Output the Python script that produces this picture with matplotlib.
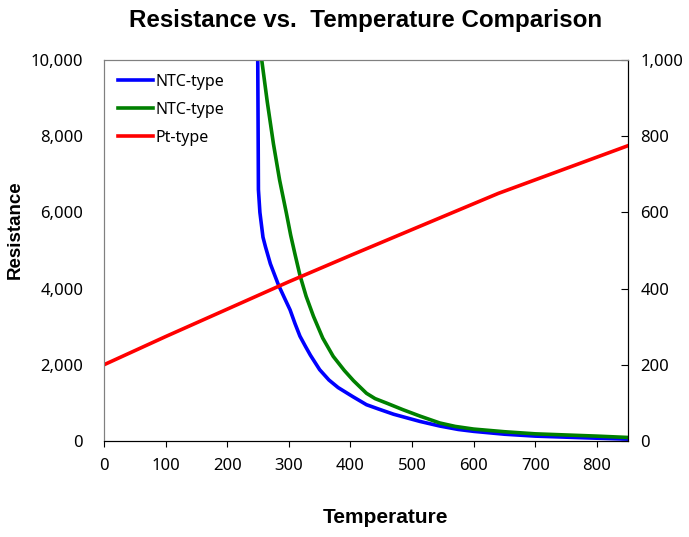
import numpy as np
import matplotlib.pyplot as plt
from matplotlib.ticker import FuncFormatter

# NTC sensor 1 (blue), left axis
ntc1_temp = [249.5, 250, 250.6, 253, 258, 262, 270, 283, 293, 302, 310, 318, 327, 335, 350, 365,
             380, 404, 426, 445, 470, 513, 545, 575, 600, 650, 700, 800, 850]
ntc1_res = [10000, 8500, 6600, 6000, 5350, 5100, 4650, 4100, 3750, 3440, 3080, 2750, 2480, 2250, 1870, 1600,
            1400, 1160, 950, 840, 700, 510, 390, 300, 250, 175, 125, 70, 45]

# NTC sensor 2 (green), left axis
ntc2_temp = [256, 265, 275, 285, 296, 303, 310, 318, 328, 340, 355, 372, 390, 405, 426, 440,
             459, 485, 513, 545, 570, 600, 650, 700, 800, 850]
ntc2_res = [10000, 8900, 7800, 6850, 5980, 5400, 4900, 4350, 3800, 3270, 2700, 2220, 1850, 1580, 1250, 1110,
            990, 820, 650, 470, 380, 310, 240, 185, 125, 90]

# Pt sensor (red), right axis
pt_temp = [0, 100, 200, 300, 400, 500, 640, 850]
pt_res = [200, 274, 346, 418, 487, 555, 650, 775]

plt.rcParams['font.family'] = ['Noto Sans', 'DejaVu Sans']

fig = plt.figure(figsize=(6.89, 5.37), dpi=100)
ax = fig.add_axes([0.151, 0.179, 0.760, 0.709])
ax2 = ax.twinx()

l1, = ax.plot(ntc1_temp, ntc1_res, color='#0000ff', lw=2.6, label='NTC-type', solid_joinstyle='round')
l2, = ax.plot(ntc2_temp, ntc2_res, color='#008000', lw=2.6, label='NTC-type', solid_joinstyle='round')
l3, = ax2.plot(pt_temp, pt_res, color='#ff0000', lw=2.6, label='Pt-type', solid_joinstyle='round')

ax.set_xlim(0, 850)
ax.set_ylim(0, 10000)
ax2.set_ylim(0, 1000)
ax.set_xticks(range(0, 900, 100))
ax.set_yticks(range(0, 10001, 2000))
ax2.set_yticks(range(0, 1001, 200))

comma = FuncFormatter(lambda v, p: f'{int(v):,}')
ax.yaxis.set_major_formatter(comma)
ax2.yaxis.set_major_formatter(comma)

ax.tick_params(axis='x', direction='out', length=4, labelsize=12, pad=8)
ax.tick_params(axis='y', length=0, labelsize=12, pad=15)
ax2.tick_params(axis='y', direction='in', length=5, labelsize=12, pad=9)

for side in ['left', 'top']:
    ax2.spines[side].set_color('#808080')
    ax.spines[side].set_color('#808080')
ax2.spines['bottom'].set_color('black')
ax2.spines['right'].set_color('black')

leg = ax.legend(handles=[l1, l2, l3], loc='upper left', frameon=False,
                fontsize=11.5, handlelength=2.2, handletextpad=0.15,
                labelspacing=0.75, borderaxespad=0.45)

bold = ['Liberation Sans', 'DejaVu Sans']
fig.text(0.531, 0.962, 'Resistance vs.  Temperature Comparison', ha='center', va='center',
         fontsize=17.4, fontweight='bold', family=bold)
fig.text(0.022, 0.573, 'Resistance', rotation=90, ha='center', va='center',
         fontsize=13.5, fontweight='bold', family=bold)
fig.text(0.559, 0.037, 'Temperature', ha='center', va='center',
         fontsize=15, fontweight='bold', family=bold)

fig.savefig('out.png', dpi=100)
